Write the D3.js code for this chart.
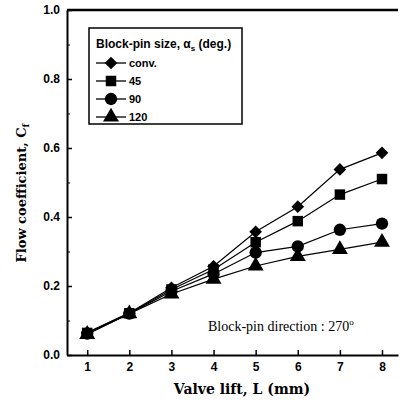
<!DOCTYPE html>
<html>
<head>
<meta charset="utf-8">
<script src="https://cdn.jsdelivr.net/npm/d3@7"></script>
<style>
  body { margin: 0; background: #fff; }
  svg { display: block; }
</style>
</head>
<body>
<div id="chart"></div>
<script>
// chart data
const lifts = [1, 2, 3, 4, 5, 6, 7, 8];
const conv = [0.065, 0.122, 0.195, 0.257, 0.357, 0.430, 0.538, 0.586];
const size45 = [0.064, 0.121, 0.190, 0.248, 0.327, 0.388, 0.465, 0.510];
const size90 = [0.062, 0.120, 0.185, 0.235, 0.297, 0.315, 0.363, 0.381];
const size120 = [0.060, 0.120, 0.177, 0.220, 0.258, 0.286, 0.306, 0.327];
const seriesNames = ["conv.", "45", "90", "120"];
const yTicks = [0.0, 0.2, 0.4, 0.6, 0.8, 1.0];
const yMinorTicks = [0.1, 0.3, 0.5, 0.7, 0.9];

const svgWidth = 400;
const svgHeight = 402;
const margin = { top: 10, right: 2, bottom: 47, left: 67 };
const chartWidth = svgWidth - margin.left - margin.right;
const chartHeight = svgHeight - margin.top - margin.bottom;

const svg = d3.select("#chart")
  .append("svg")
  .attr("width", svgWidth)
  .attr("height", svgHeight);

const chartGroup = svg.append("g")
  .attr("transform", `translate(${margin.left}, ${margin.top})`);

const xScale = d3.scaleLinear().domain([0.52, 8.38]).range([0, chartWidth]);
const yScale = d3.scaleLinear().domain([0, 1.0]).range([chartHeight, 0]);

// axes, ticks pointing inward
const xAxis = d3.axisBottom(xScale).tickValues(lifts).tickSize(-5).tickSizeOuter(0).tickPadding(7);
const yAxis = d3.axisLeft(yScale).tickValues(yTicks).tickSize(-5).tickSizeOuter(0)
  .tickFormat(d3.format(".1f")).tickPadding(7);

const xg = chartGroup.append("g")
  .attr("transform", `translate(0, ${chartHeight})`)
  .call(xAxis);
const yg = chartGroup.append("g").call(yAxis);

// minor y ticks
chartGroup.append("g")
  .call(d3.axisLeft(yScale).tickValues(yMinorTicks).tickSize(-3).tickFormat(""))
  .call(g => g.select(".domain").remove());

[xg, yg].forEach(g => {
  g.select(".domain").attr("stroke-width", 2);
  g.selectAll(".tick line").attr("stroke-width", 1.5);
  g.selectAll("text")
    .attr("font-family", "Liberation Sans, Arial, sans-serif")
    .attr("font-weight", "bold")
    .attr("font-size", 12)
    .attr("fill", "#000");
});

// top frame line
chartGroup.append("line")
  .attr("x1", 0).attr("x2", chartWidth)
  .attr("y1", 0).attr("y2", 0)
  .attr("stroke", "#000").attr("stroke-width", 2.5);

const series = [
  { name: seriesNames[0], values: conv, symbol: d3.symbolSquare, size: 80, rot: 45 },
  { name: seriesNames[1], values: size45, symbol: d3.symbolSquare, size: 110, rot: 0 },
  { name: seriesNames[2], values: size90, symbol: d3.symbolCircle, size: 120, rot: 0 },
  { name: seriesNames[3], values: size120, symbol: d3.symbolTriangle, size: 110, rot: 0 }
];

const line = d3.line()
  .x((d, i) => xScale(lifts[i]))
  .y(d => yScale(d));

series.forEach(s => {
  chartGroup.append("path")
    .datum(s.values)
    .attr("d", line)
    .attr("fill", "none")
    .attr("stroke", "#000")
    .attr("stroke-width", 1.2);

  chartGroup.selectAll(null)
    .data(s.values)
    .enter()
    .append("path")
    .attr("d", d3.symbol().type(s.symbol).size(s.size))
    .attr("transform", (d, i) => `translate(${xScale(lifts[i])}, ${yScale(d)}) rotate(${s.rot})`)
    .attr("fill", "#000");
});

// legend
const legend = svg.append("g").attr("transform", "translate(89, 28)");
legend.append("rect")
  .attr("width", 153).attr("height", 96)
  .attr("fill", "#fff").attr("stroke", "#000").attr("stroke-width", 1.5);

const legendTitle = legend.append("text")
  .attr("x", 7).attr("y", 20)
  .attr("font-family", "Liberation Sans, Arial, sans-serif")
  .attr("font-weight", "bold")
  .attr("font-size", 12)
  .text("Block-pin size, α");
legendTitle.append("tspan").attr("font-size", 8).attr("dy", 3).text("s");
legendTitle.append("tspan").attr("dy", -3).text(" (deg.)");

series.forEach((s, i) => {
  const yy = 35 + i * 18;
  legend.append("line")
    .attr("x1", 7).attr("x2", 37)
    .attr("y1", yy).attr("y2", yy)
    .attr("stroke", "#000").attr("stroke-width", 1.3);
  legend.append("path")
    .attr("d", d3.symbol().type(s.symbol).size(s.size))
    .attr("transform", `translate(22, ${yy}) rotate(${s.rot})`)
    .attr("fill", "#000");
  legend.append("text")
    .attr("x", 40).attr("y", yy + 4)
    .attr("font-family", "Liberation Sans, Arial, sans-serif")
    .attr("font-weight", "bold")
    .attr("font-size", 11)
    .text(s.name);
});

// annotation
const note = svg.append("text")
  .attr("x", 208).attr("y", 331)
  .attr("font-family", "Liberation Serif, Times New Roman, serif")
  .attr("font-size", 14)
  .text("Block-pin direction : 270");
note.append("tspan").attr("font-size", 9).attr("dy", -6).text("o");

// axis titles
svg.append("text")
  .attr("x", 242).attr("y", 394)
  .attr("text-anchor", "middle")
  .attr("font-family", "DejaVu Serif, serif")
  .attr("font-weight", "bold")
  .attr("font-size", 14)
  .text("Valve lift, L (mm)");

const yTitle = svg.append("text")
  .attr("transform", "translate(26, 193) rotate(-90)")
  .attr("text-anchor", "middle")
  .attr("font-family", "DejaVu Serif, serif")
  .attr("font-weight", "bold")
  .attr("font-size", 13)
  .text("Flow coefficient, C");
yTitle.append("tspan").attr("font-size", 9).attr("dy", 3).text("f");
</script>
</body>
</html>
